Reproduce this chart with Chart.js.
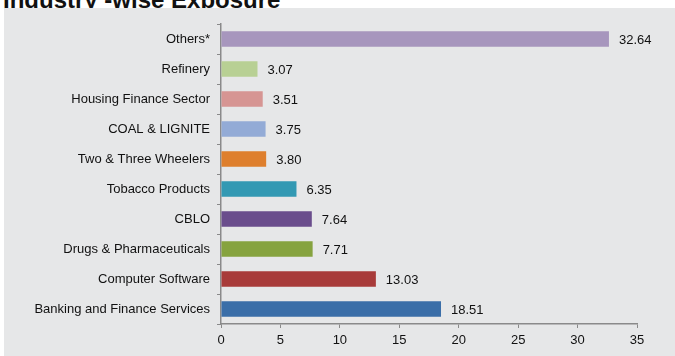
<!DOCTYPE html>
<html>
<head>
<meta charset="utf-8">
<script src="https://cdn.jsdelivr.net/npm/chart.js@4.4.1/dist/chart.umd.min.js"></script>
<style>
    html, body { margin: 0; padding: 0; background: #ffffff; }
    #wrap { position: relative; width: 675px; height: 356px; overflow: hidden; }
    #title {
        position: absolute; left: 3px; top: -12px;
        font-family: 'Liberation Sans', Arial, sans-serif;
        font-weight: bold; font-size: 24px; line-height: 24px; color: #111;
        white-space: nowrap;
    }
    #panel { position: absolute; left: 4px; top: 8px; right: 0; bottom: 0; background: #e6e7e8; }
    #chartBox { position: absolute; left: 0; top: 0; width: 675px; height: 356px; }
</style>
</head>
<body>
<div id="wrap">
    <div id="title">Industry -wise Exposure</div>
    <div id="panel"></div>
    <div id="chartBox"><canvas id="exposureChart" width="675" height="356"></canvas></div>
</div>
<script>
const categories = [
    'Others*',
    'Refinery',
    'Housing Finance Sector',
    'COAL & LIGNITE',
    'Two & Three Wheelers',
    'Tobacco Products',
    'CBLO',
    'Drugs & Pharmaceuticals',
    'Computer Software',
    'Banking and Finance Services'
];
const exposure = [32.64, 3.07, 3.51, 3.75, 3.80, 6.35, 7.64, 7.71, 13.03, 18.51];
const barColors = [
    '#a796bd', '#b8d094', '#d69593', '#93abd6', '#de7f2d',
    '#3399b3', '#6a4d8c', '#86a33f', '#a83b3a', '#3a6ea8'
];
const xTicks = [0, 5, 10, 15, 20, 25, 30, 35];

const fontFamily = "'Liberation Sans', Arial, sans-serif";

// value labels to the right of each bar
const valueLabels = {
    id: 'valueLabels',
    afterDatasetsDraw(chart) {
        const ctx = chart.ctx;
        const meta = chart.getDatasetMeta(0);
        ctx.save();
        ctx.font = '13px ' + fontFamily;
        ctx.fillStyle = '#111';
        ctx.textAlign = 'left';
        ctx.textBaseline = 'middle';
        meta.data.forEach((bar, i) => {
            ctx.fillText(exposure[i].toFixed(2), bar.x + 10, bar.y + 1);
        });
        ctx.restore();
    }
};

new Chart(document.getElementById('exposureChart'), {
    type: 'bar',
    data: {
        labels: categories,
        datasets: [{
            data: exposure,
            backgroundColor: barColors,
            borderWidth: 0,
            barPercentage: 0.51,
            categoryPercentage: 1
        }]
    },
    options: {
        indexAxis: 'y',
        responsive: false,
        animation: false,
        layout: { padding: { top: 24, right: 38, bottom: 0, left: 0 } },
        plugins: {
            legend: { display: false },
            tooltip: { enabled: false }
        },
        scales: {
            x: {
                min: 0,
                max: 35,
                afterBuildTicks: (axis) => { axis.ticks = xTicks.map(v => ({ value: v })); },
                afterFit: (axis) => { axis.height = 32; },
                grid: { drawOnChartArea: false, tickLength: 4, color: '#8a8a8a' },
                border: { color: '#8a8a8a', width: 1.5 },
                ticks: { color: '#111', padding: 5, font: { family: fontFamily, size: 13 } }
            },
            y: {
                afterFit: (axis) => { axis.width = 221; },
                grid: { offset: true, drawOnChartArea: false, tickLength: 4, color: '#8a8a8a' },
                border: { color: '#8a8a8a', width: 1.5 },
                ticks: { color: '#111', padding: 7, font: { family: fontFamily, size: 13 } }
            }
        }
    },
    plugins: [valueLabels]
});
</script>
</body>
</html>
